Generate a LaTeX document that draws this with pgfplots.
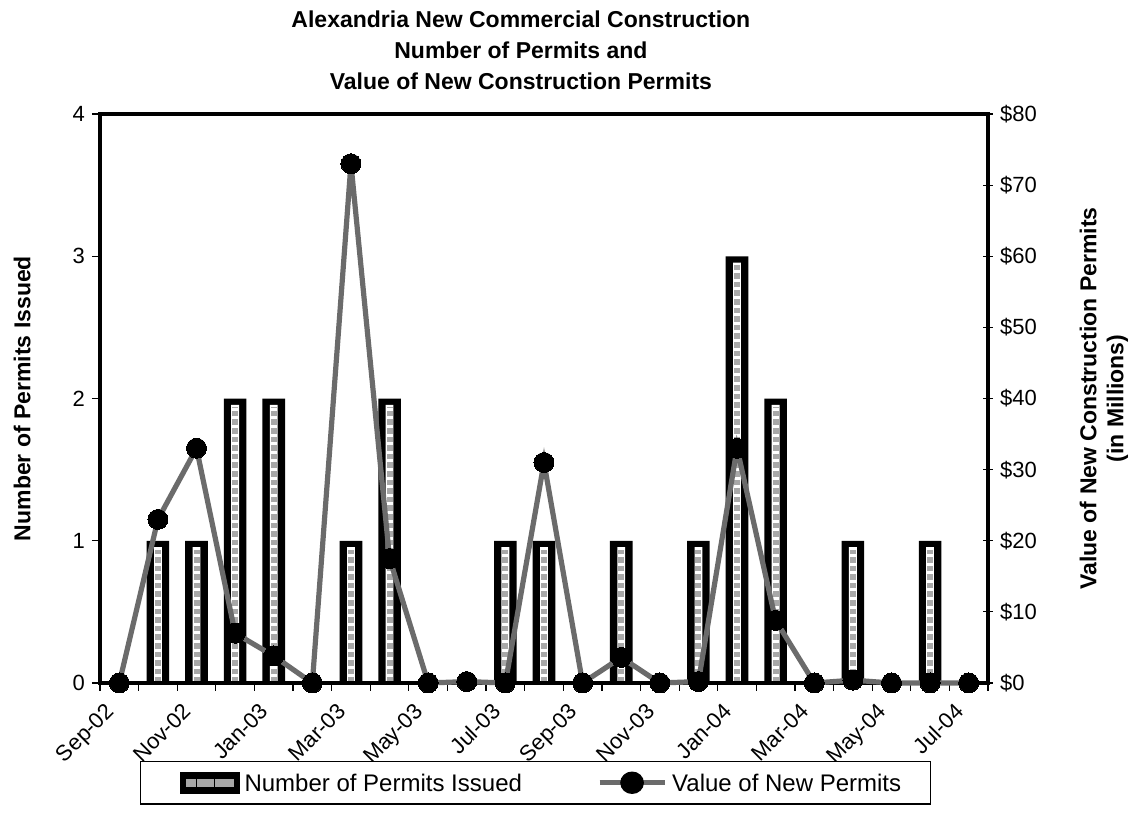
\documentclass[border=0pt]{standalone}
\usepackage{fontspec}
\setmainfont{Liberation Sans}
\usepackage{pgfplots}
\pgfplotsset{compat=1.18}
\usepackage{pgfplotstable}

% Monthly permits issued (only months with at least one permit)
\pgfplotstableread{
idx permits
1 1
2 1
3 2
4 2
6 1
7 2
10 1
11 1
13 1
15 1
16 3
17 2
19 1
21 1
}\permits

% Monthly value of new permits, millions of dollars
\pgfplotstableread{
idx value
0 0
1 23
2 33
3 7
4 3.8
5 0
6 73
7 17.5
8 0
9 0.2
10 0
11 31
12 0
13 3.6
14 0
15 0.2
16 33
17 8.8
18 0
19 0.4
20 0
21 0
22 0
}\values

\definecolor{linegray}{gray}{0.42}
\definecolor{dotgray}{gray}{0.66}

\begin{document}
\begin{tikzpicture}
\pgfplotsset{
  chartbase/.style={
    scale only axis, width=444pt, height=284.5pt,
    xmin=-0.5, xmax=22.5,
    /pgf/number format/assume math mode=true,
    tick label style={font=\fontsize{11}{13}\selectfont},
    axis line style={line width=1.6pt},
    tick style={black, line width=0.6pt},
  }
}
\begin{axis}[chartbase,
  axis on top,
  ymin=0, ymax=4, ytick={0,1,2,3,4},
  ytick pos=left, xtick pos=bottom,
  tick align=outside,
  major tick length=4pt,
  xtick={0,2,...,22},
  xticklabels={Sep-02,Nov-02,Jan-03,Mar-03,May-03,Jul-03,Sep-03,Nov-03,Jan-04,Mar-04,May-04,Jul-04},
  major x tick style={draw=none},
  minor xtick={-0.5,0.5,...,22.5},
  minor tick length=4pt,
  xticklabel style={xshift=-7.5pt, yshift=-0.5pt, rotate=45, anchor=north east},
  ylabel={Number of Permits Issued},
  ylabel style={at={(axis description cs:-0.0878,0.5)}, anchor=center,
    font=\bfseries\fontsize{11.5}{14}\selectfont},
  title={Alexandria New Commercial Construction\\Number of Permits and\\Value of New Construction Permits},
  title style={at={(axis description cs:0.474,1)}, anchor=base, yshift=6.5pt,
    align=center, font=\bfseries\fontsize{11.5}{15.5}\selectfont},
]
% black frame of each bar
\addplot[ybar, bar width=11.3pt, bar shift=0pt, fill=black, draw=none]
  table[x=idx, y=permits]{\permits};
% white interior
\addplot[ybar, bar width=3.9pt, bar shift=0pt, fill=white, draw=none]
  table[x=idx, y expr=\thisrow{permits}-0.045]{\permits};
% column of grey squares
\addplot[ycomb, dotgray, line width=3pt, dash pattern=on 2.8pt off 1.5pt, mark=none]
  table[x=idx, y expr=\thisrow{permits}-0.062]{\permits};
\end{axis}

\begin{axis}[chartbase,
  axis y line*=right, axis x line=none,
  ymin=0, ymax=80, ytick={0,10,...,80},
  yticklabel={\$\pgfmathprintnumber{\tick}},
  tick align=center, major tick length=5pt,
  clip=false,
  ylabel={Value of New Construction Permits\\(in Millions)},
  ylabel style={at={(axis description cs:1.1306,0.5)}, anchor=center, align=center,
    font=\bfseries\fontsize{11.5}{13.5}\selectfont},
  legend columns=2,
  legend cell align=left,
  legend style={at={(axis description cs:0.045,-0.137)}, anchor=north west,
    draw=black, line width=0.6pt, inner xsep=14.5pt, inner ysep=5pt,
    font=\fontsize{12}{14}\selectfont,
    nodes={inner sep=0pt, text depth=0pt},
    /tikz/every odd column/.append style={column sep=2.5pt},
    /tikz/every even column/.append style={column sep=37.5pt}},
]
\addlegendimage{legend image code/.code={
  \path (-5pt,0pt);
  \fill[black] (0pt,-5.25pt) rectangle (29.4pt,5.25pt);
  \fill[dotgray] (3pt,-1.6pt) rectangle (7.5pt,1.6pt);
  \fill[dotgray] (8.5pt,-1.6pt) rectangle (16.5pt,1.6pt);
  \fill[dotgray] (17.5pt,-1.6pt) rectangle (26.4pt,1.6pt);
}}
\addlegendentry{Number of Permits Issued}
\addplot[linegray, line width=2.6pt, mark=*, mark size=5pt,
  mark options={fill=black, draw=black, line width=0pt},
  legend image code/.code={
    \draw[linegray, line width=2.6pt] (0pt,0pt) -- (32.5pt,0pt);
    \fill[black] (16.25pt,0pt) circle[x radius=4.6pt, y radius=4.3pt];
  }]
  table[x=idx, y=value]{\values};
\addlegendentry{Value of New Permits}
\end{axis}

\pgfresetboundingbox
\path[use as bounding box] (-50pt,-65.5pt) rectangle (521pt,341.5pt);
\end{tikzpicture}
\end{document}
